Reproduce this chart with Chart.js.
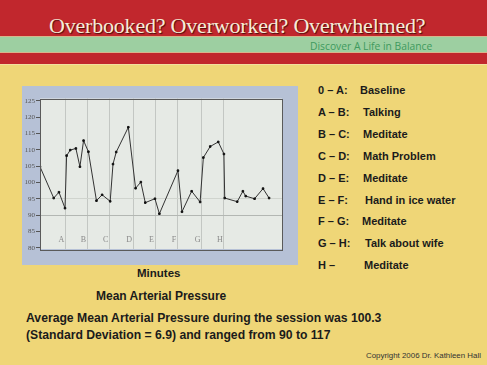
<!DOCTYPE html>
<html>
<head>
<meta charset="utf-8">
<script src="https://cdn.jsdelivr.net/npm/chart.js@4.4.1/dist/chart.umd.min.js"></script>
<style>
  body { margin: 0; width: 487px; height: 365px; overflow: hidden; background: #efd677; position: relative; font-family: 'Liberation Sans', Arial, sans-serif; }
  .abs { position: absolute; white-space: nowrap; }
  #header { left: 0; top: 0; width: 487px; height: 64px; background: #c1272d; border-bottom: 1px solid #f3dfa0; }
  #band { left: 0; top: 36px; width: 487px; height: 15px; background: #9dcfa1; border-top: 1px solid #d8b58c; border-bottom: 1px solid #d8b58c; }
  #title { left: 49px; top: 13px; font-family: 'Liberation Serif', 'Times New Roman', serif; font-size: 22px; letter-spacing: -0.2px; color: #f6ecd9; text-shadow: 1px 1px 1px #4a0d0d; }
  #sub { left: 310px; top: 39px; font-family: 'Open Sans', sans-serif; font-size: 10.3px; color: #3f9a5e; }
  #panel { left: 22px; top: 86px; width: 276px; height: 179px; background: #b6c1d6; }
  .bold { font-weight: bold; color: #1b1b1b; font-size: 11px; }
  .para { font-weight: bold; color: #1b1b1b; font-size: 12.2px; left: 26px; }
  #copy { left: 366px; top: 351px; font-size: 7.9px; color: #333; }
</style>
</head>
<body>
<div id="header" class="abs"></div>
<div id="band" class="abs"></div>
<div id="title" class="abs">Overbooked? Overworked? Overwhelmed?</div>
<div id="sub" class="abs">Discover A Life in Balance</div>
<div id="panel" class="abs"><canvas id="mapChart" width="276" height="179"></canvas></div>
<div id="legend"></div>
<div class="abs bold" style="left:137px; top:267px; font-size:11.5px;">Minutes</div>
<div class="abs bold" style="left:96px; top:289px; font-size:12px;">Mean Arterial Pressure</div>
<div class="abs para" style="top:311px;">Average Mean Arterial Pressure during the session was 100.3</div>
<div class="abs para" style="top:328px;">(Standard Deviation = 6.9) and ranged from 90 to 117</div>
<div id="copy" class="abs">Copyright 2006 Dr. Kathleen Hall</div>

<script>
// minutos (aprox.) y presion arterial media
const minutos = [0, 3.4, 4.7, 6.2, 6.6, 7.5, 8.9, 9.9, 10.8, 12.0, 14.0, 15.4, 17.4, 18.1, 18.9, 21.9, 23.7, 25.0, 26.1, 28.5, 29.6, 34.2, 35.2, 37.6, 39.7, 40.5, 42.2, 44.2, 45.6, 45.8, 48.9, 50.3, 51.0, 53.2, 55.3, 56.8];
const presion = [104.8, 95.2, 97.0, 92.1, 108.2, 109.9, 110.4, 104.8, 112.8, 109.4, 94.4, 96.2, 94.2, 105.6, 109.3, 116.9, 98.2, 100.1, 93.8, 95.0, 90.4, 103.6, 91.0, 97.3, 94.0, 107.6, 111.0, 112.4, 108.7, 95.2, 94.1, 97.3, 95.8, 95.0, 98.1, 95.2];

// marcas de fase
const fases = ['A', 'B', 'C', 'D', 'E', 'F', 'G', 'H'];
const fasesX = [6.3, 11.75, 17.3, 23.1, 28.6, 34.2, 40.1, 45.6];
const yTicks = [80, 85, 90, 95, 100, 105, 110, 115, 120, 125];

const leyendaCodigo = ['0 \u2013 A:', 'A \u2013 B:', 'B \u2013 C:', 'C \u2013 D:', 'D \u2013 E:', 'E \u2013 F:', 'F \u2013 G:', 'G \u2013 H:', 'H \u2013'];
const leyendaTexto = ['Baseline', 'Talking', 'Meditate', 'Math Problem', 'Meditate', 'Hand in ice water', 'Meditate', 'Talk about wife', 'Meditate'];

const legendDiv = document.getElementById('legend');
leyendaCodigo.forEach((cod, i) => {
    const top = 84 + i * 21.9;
    legendDiv.innerHTML += `<div class="abs bold" style="left:318px; top:${top}px;">${cod}</div>`;
    const dx = [360, 363, 363, 363, 363, 365, 362, 365, 364][i];
    legendDiv.innerHTML += `<div class="abs bold" style="left:${dx}px; top:${top}px;">${leyendaTexto[i]}</div>`;
});

// borde del area y letras de fase
const extrasPlugin = {
    id: 'extras',
    afterDraw(chart) {
        const { ctx, chartArea, scales } = chart;
        ctx.save();
        ctx.strokeStyle = '#5a5a5a';
        ctx.lineWidth = 1;
        ctx.strokeRect(Math.round(chartArea.left) + 0.5, Math.round(chartArea.top) + 0.5,
            Math.round(chartArea.width), Math.round(chartArea.height));
        ctx.fillStyle = '#8a8a8a';
        ctx.font = '8px "Liberation Serif", serif';
        ctx.textAlign = 'center';
        ctx.textBaseline = 'middle';
        const y = scales.y.getPixelForValue(82.3);
        fases.forEach((f, i) => {
            ctx.fillText(f, scales.x.getPixelForValue(fasesX[i]) - 4, y);
        });
        ctx.restore();
    }
};

// fondo del area de trazado
const fondoPlugin = {
    id: 'fondo',
    beforeDraw(chart) {
        const { ctx, chartArea } = chart;
        ctx.save();
        ctx.fillStyle = '#e6eae5';
        ctx.fillRect(chartArea.left, chartArea.top, chartArea.width, chartArea.height);
        ctx.restore();
    }
};

const config = {
    type: 'line',
    data: {
        datasets: [{
            data: minutos.map((m, i) => ({ x: m, y: presion[i] })),
            borderColor: '#333',
            borderWidth: 1,
            pointRadius: 1.1,
            pointStyle: 'rect',
            pointBackgroundColor: '#111',
            pointBorderColor: '#111',
            tension: 0
        }]
    },
    options: {
        responsive: false,
        animation: false,
        layout: { padding: { left: 0, top: 12.5, right: 16, bottom: 16 } },
        plugins: { legend: { display: false }, tooltip: { enabled: false } },
        scales: {
            x: {
                type: 'linear',
                min: 0,
                max: 60,
                afterBuildTicks: s => { s.ticks = fasesX.map(v => ({ value: v })); },
                afterFit: s => { s.height = 0; },
                ticks: { display: false },
                border: { display: false },
                grid: { color: '#c3c7c3', drawTicks: false }
            },
            y: {
                min: 79.6,
                max: 125.7,
                afterBuildTicks: s => { s.ticks = yTicks.map(v => ({ value: v })); },
                afterFit: s => { s.width = 18; },
                border: { display: false },
                grid: {
                    color: c => c.tick && c.tick.value === 90 ? '#b3b7b3' : (c.tick && c.tick.value === 95 ? '#d0d4ce' : 'rgba(0,0,0,0)'),
                    tickColor: '#555',
                    tickLength: 4
                },
                ticks: {
                    color: '#555',
                    padding: 1,
                    font: { size: 7, family: 'Liberation Serif' }
                }
            }
        }
    }
};

new Chart(document.getElementById('mapChart'), { ...config, plugins: [fondoPlugin, extrasPlugin] });
</script>
</body>
</html>
